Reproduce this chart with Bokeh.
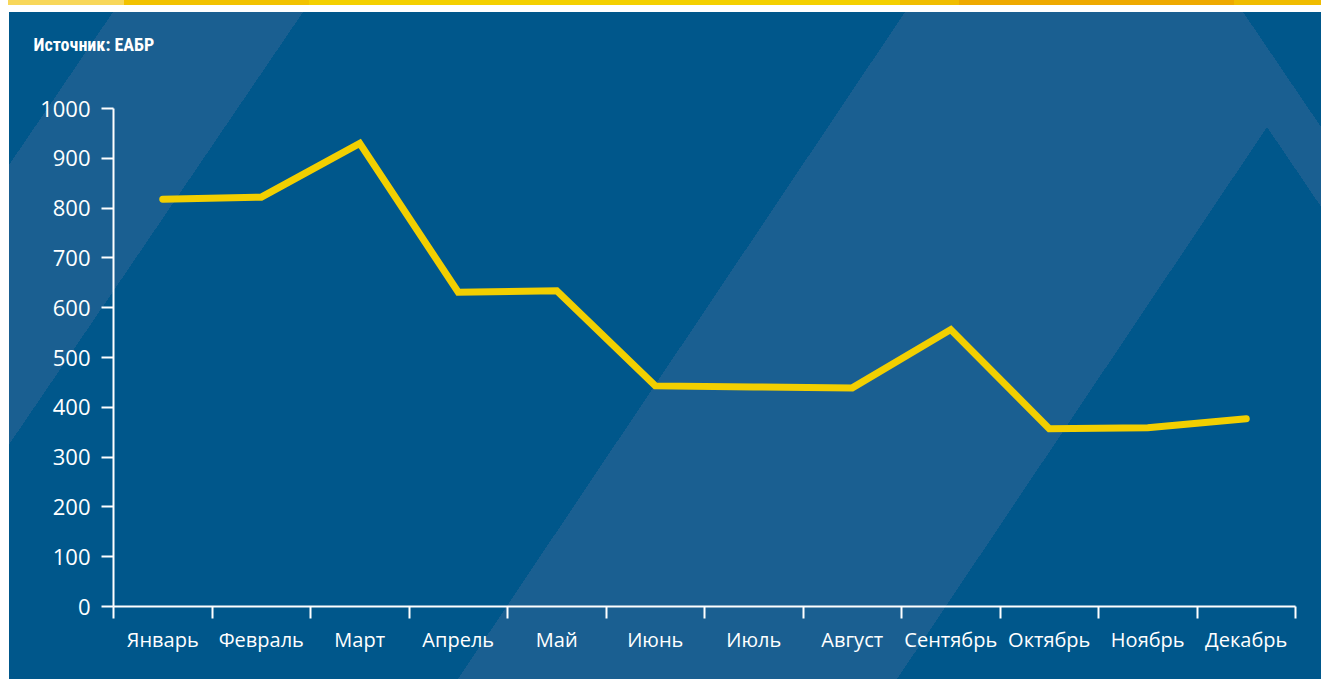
import math
from bokeh.plotting import figure
from bokeh.models import FixedTicker, Range1d, Title
from bokeh.embed import file_html
from bokeh.resources import INLINE

# ---- data ----
months = ["Январь", "Февраль", "Март", "Апрель", "Май", "Июнь",
          "Июль", "Август", "Сентябрь", "Октябрь", "Ноябрь", "Декабрь"]
values = [818, 822, 930, 631, 634, 443, 441, 439, 556, 357, 359, 377]
y_ticks = [0, 100, 200, 300, 400, 500, 600, 700, 800, 900, 1000]
source_text = "Источник: ЕАБР"

# ---- style ----
W, H = 1321, 679
BLUE = "#00578b"
LIGHT = "#1a5f91"
YELLOW = "#f2cf00"
FONT = "Open Sans"
TITLE_FONT = "'Roboto Condensed', 'Liberation Sans Narrow', 'Arial Narrow', Roboto, sans-serif"

FRAME_TOP, AXIS_TOP, AXIS_BOTTOM = 80, 108, 606   # canvas pixels


def _norm(dvec):
    dx, dy = dvec
    n = (dy, -dx)
    l = math.hypot(*n)
    return (n[0] / l, n[1] / l)


def _grad_geom(dvec):
    nx, ny = _norm(dvec)
    theta = math.degrees(math.atan2(nx, -ny))
    L = abs(W * nx) + abs(H * ny)
    return nx, ny, theta, L


def _pos(pt, nx, ny, L):
    x, y = pt
    return (x - W / 2) * nx + (y - H / 2) * ny + L / 2


def band(p1, p2, dvec, color):
    nx, ny, theta, L = _grad_geom(dvec)
    t1, t2 = sorted([_pos(p1, nx, ny, L), _pos(p2, nx, ny, L)])
    return (f"linear-gradient({theta:.3f}deg, transparent {t1:.2f}px, "
            f"{color} {t1:.2f}px, {color} {t2:.2f}px, transparent {t2:.2f}px)")


def half_plane(p, dvec, inside_pt, color):
    nx, ny, theta, L = _grad_geom(dvec)
    t = _pos(p, nx, ny, L)
    ti = _pos(inside_pt, nx, ny, L)
    if ti > t:
        return f"linear-gradient({theta:.3f}deg, transparent {t:.2f}px, {color} {t:.2f}px)"
    return f"linear-gradient({theta:.3f}deg, {color} {t:.2f}px, transparent {t:.2f}px)"


stripe = [(0, 8, "#ffffff"), (8, 124, "#f8d75a"), (124, 309, "#f2c200"),
          (309, 900, "#f4d000"), (900, 959, "#f0bd00"), (959, 1234, "#eea900"),
          (1234, W, "#f0bc00")]
stops = ", ".join(f"{c} {a}px, {c} {b}px" for a, b, c in stripe)

layers = [
    f"linear-gradient(to right, {stops}) 0 0 / 100% 5px no-repeat",
    "linear-gradient(to bottom, #ffffff 0px, #ffffff 12px, transparent 12px)",
    "linear-gradient(to right, #ffffff 0px, #ffffff 9px, transparent 9px)",
    half_plane((1243, 12), (78, 115), (1315, 14), BLUE),
    band((1243, 12), (1267, 127), (78, 115), LIGHT),
    band((905, 12), (1267, 127), (-447, 667), LIGHT),
    band((113, 12), (303, 12), (-104, 153), LIGHT),
    f"linear-gradient({BLUE}, {BLUE})",
]

xs = [i + 0.5 for i in range(len(months))]
y_top = y_ticks[-1] * (AXIS_BOTTOM - FRAME_TOP) / (AXIS_BOTTOM - AXIS_TOP)

p = figure(width=W, height=H, output_backend="svg", toolbar_location=None,
           x_range=Range1d(0, len(months)), y_range=Range1d(0, y_top),
           min_border_left=113, min_border_right=26, min_border_top=FRAME_TOP,
           min_border_bottom=H - AXIS_BOTTOM, border_fill_color=None,
           background_fill_color=None, outline_line_color=None)
p.styles = {"background": ", ".join(layers)}

p.add_layout(Title(text=source_text, align="left", offset=-80, standoff=48,
                   vertical_align="top",
                   text_font=TITLE_FONT, text_font_style="bold",
                   text_font_size="18px", text_color="white"), "above")

p.line(xs, values, line_width=7, line_color=YELLOW, line_cap="round", line_join="miter")

p.xgrid.visible = False
p.ygrid.visible = False

xa = p.xaxis[0]
xa.ticker = FixedTicker(ticks=xs, minor_ticks=list(range(len(months) + 1)))
xa.major_label_overrides = {x: m for x, m in zip(xs, months)}
xa.major_tick_out = 0
xa.major_tick_in = 0
xa.minor_tick_out = 12
xa.minor_tick_in = 0
xa.minor_tick_line_color = "white"
xa.minor_tick_line_width = 2
xa.axis_line_color = "white"
xa.axis_line_width = 2
xa.major_label_text_color = "white"
xa.major_label_text_font = FONT
xa.major_label_text_font_size = "20px"
xa.major_label_standoff = 7

ya = p.yaxis[0]
ya.bounds = (y_ticks[0], y_ticks[-1])
ya.ticker = FixedTicker(ticks=y_ticks, minor_ticks=[])
ya.major_tick_out = 12
ya.major_tick_in = 0
ya.major_tick_line_color = "white"
ya.major_tick_line_width = 2
ya.axis_line_color = "white"
ya.axis_line_width = 2
ya.major_label_text_color = "white"
ya.major_label_text_font = FONT
ya.major_label_text_font_size = "22px"
ya.major_label_standoff = 11

open("out.html", "w").write(file_html(p, INLINE))
